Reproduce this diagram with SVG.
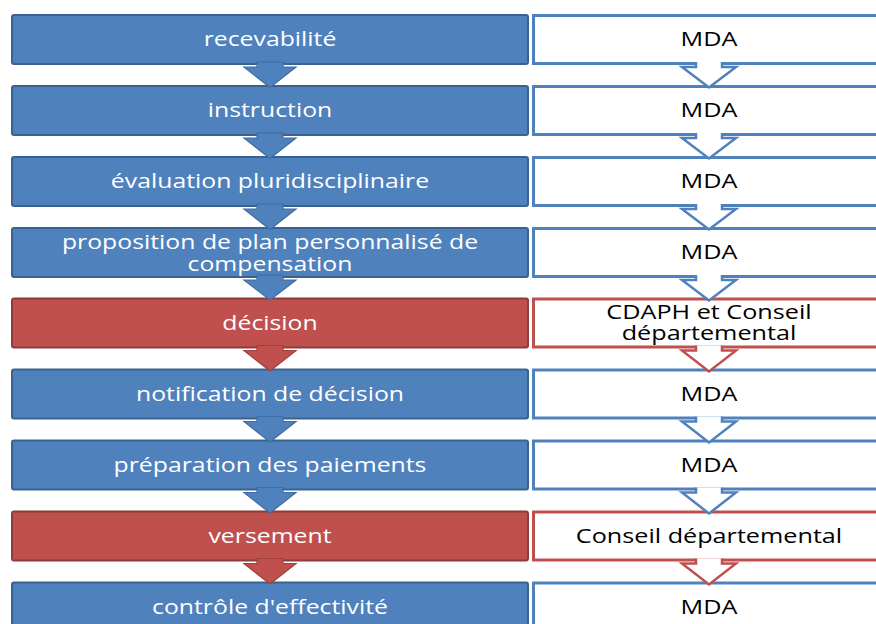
<svg xmlns="http://www.w3.org/2000/svg" width="876" height="624" viewBox="0 0 876 624">
<style>
.lb{stroke:#3A6290;stroke-width:2;fill:#4F81BD}
.lr{stroke:#8E3B39;stroke-width:2;fill:#C0504D}
.rb{stroke:#4F81BD;stroke-width:3;fill:#FFFFFF}
.rr{stroke:#C0504D;stroke-width:3;fill:#FFFFFF}
.tl{font-family:"Open Sans","Liberation Sans",sans-serif;font-size:20px;fill:#FFFFFF;text-anchor:middle}
.tr{font-family:"Open Sans","Liberation Sans",sans-serif;font-size:20px;fill:#000000;text-anchor:middle}
.ab{fill:#4F81BD;stroke:#3F6DA3;stroke-width:1.2;stroke-linejoin:miter}
.ar{fill:#C0504D;stroke:#A03F3C;stroke-width:1.2}
.ob{fill:#FFFFFF;stroke:#4F81BD;stroke-width:2.5}
.or{fill:#FFFFFF;stroke:#C0504D;stroke-width:2.5}
</style>
<rect width="876" height="624" fill="#FFFFFF"/>
<g id="nodes">
<g id="n1"><rect class="lb" x="12" y="15" width="516" height="49" rx="2"/><text class="tl" transform="translate(270,46) scale(1.24,1)">recevabilité</text></g>
<g id="r1"><rect class="rb" x="533.5" y="15.5" width="360" height="48"/><text class="tr" transform="translate(709,46) scale(1.26,1)">MDA</text></g>
<g id="n2"><rect class="lb" x="12" y="86" width="516" height="49" rx="2"/><text class="tl" transform="translate(270,117) scale(1.24,1)">instruction</text></g>
<g id="r2"><rect class="rb" x="533.5" y="86.5" width="360" height="48"/><text class="tr" transform="translate(709,117) scale(1.26,1)">MDA</text></g>
<g id="n3"><rect class="lb" x="12" y="157" width="516" height="49" rx="2"/><text class="tl" transform="translate(270,188) scale(1.24,1)">évaluation pluridisciplinaire</text></g>
<g id="r3"><rect class="rb" x="533.5" y="157.5" width="360" height="48"/><text class="tr" transform="translate(709,188) scale(1.26,1)">MDA</text></g>
<g id="n4"><rect class="lb" x="12" y="228" width="516" height="49" rx="2"/><text class="tl" transform="translate(270,249) scale(1.24,1)">proposition de plan personnalisé de</text><text class="tl" transform="translate(270,271) scale(1.24,1)">compensation</text></g>
<g id="r4"><rect class="rb" x="533.5" y="228.5" width="360" height="48"/><text class="tr" transform="translate(709,259) scale(1.26,1)">MDA</text></g>
<g id="n5"><rect class="lr" x="12" y="298.5" width="516" height="49" rx="2"/><text class="tl" transform="translate(270,329.5) scale(1.24,1)">décision</text></g>
<g id="r5"><rect class="rr" x="533.5" y="299" width="360" height="48"/><text class="tr" transform="translate(709,319) scale(1.26,1)">CDAPH et Conseil</text><text class="tr" transform="translate(709,340) scale(1.26,1)">départemental</text></g>
<g id="n6"><rect class="lb" x="12" y="369.5" width="516" height="49" rx="2"/><text class="tl" transform="translate(270,400.5) scale(1.24,1)">notification de décision</text></g>
<g id="r6"><rect class="rb" x="533.5" y="370" width="360" height="48"/><text class="tr" transform="translate(709,400.5) scale(1.26,1)">MDA</text></g>
<g id="n7"><rect class="lb" x="12" y="440.5" width="516" height="49" rx="2"/><text class="tl" transform="translate(270,471.5) scale(1.24,1)">préparation des paiements</text></g>
<g id="r7"><rect class="rb" x="533.5" y="441" width="360" height="48"/><text class="tr" transform="translate(709,471.5) scale(1.26,1)">MDA</text></g>
<g id="n8"><rect class="lr" x="12" y="511.5" width="516" height="49" rx="2"/><text class="tl" transform="translate(270,542.5) scale(1.24,1)">versement</text></g>
<g id="r8"><rect class="rr" x="533.5" y="512" width="360" height="48"/><text class="tr" transform="translate(709,542.5) scale(1.26,1)">Conseil départemental</text></g>
<g id="n9"><rect class="lb" x="12" y="582.5" width="516" height="49" rx="2"/><text class="tl" transform="translate(270,613.5) scale(1.24,1)">contrôle d'effectivité</text></g>
<g id="r9"><rect class="rb" x="533.5" y="583" width="360" height="48"/><text class="tr" transform="translate(709,613.5) scale(1.26,1)">MDA</text></g>
</g>
<g id="connectors">
<path class="ab" d="M257,62 V67 H244 L270,87.5 L296,67 H283 V62 Z"/>
<path class="ob" d="M696,62 V67 H682 L709,87.5 L736,67 H722 V62"/>
<path class="ab" d="M257,133 V138 H244 L270,158.5 L296,138 H283 V133 Z"/>
<path class="ob" d="M696,133 V138 H682 L709,158.5 L736,138 H722 V133"/>
<path class="ab" d="M257,204 V209 H244 L270,229.5 L296,209 H283 V204 Z"/>
<path class="ob" d="M696,204 V209 H682 L709,229.5 L736,209 H722 V204"/>
<path class="ab" d="M257,275 V280 H244 L270,300 L296,280 H283 V275 Z"/>
<path class="ob" d="M696,275 V280 H682 L709,300.5 L736,280 H722 V275"/>
<path class="ar" d="M257,345.5 V350.5 H244 L270,371 L296,350.5 H283 V345.5 Z"/>
<path class="or" d="M696,345.5 V350.5 H682 L709,371.5 L736,350.5 H722 V345.5"/>
<path class="ab" d="M257,416.5 V421.5 H244 L270,442 L296,421.5 H283 V416.5 Z"/>
<path class="ob" d="M696,416.5 V421.5 H682 L709,442.5 L736,421.5 H722 V416.5"/>
<path class="ab" d="M257,487.5 V492.5 H244 L270,513 L296,492.5 H283 V487.5 Z"/>
<path class="ob" d="M696,487.5 V492.5 H682 L709,513.5 L736,492.5 H722 V487.5"/>
<path class="ar" d="M257,558.5 V563.5 H244 L270,584 L296,563.5 H283 V558.5 Z"/>
<path class="or" d="M696,558.5 V563.5 H682 L709,584.5 L736,563.5 H722 V558.5"/>
</g>
</svg>
